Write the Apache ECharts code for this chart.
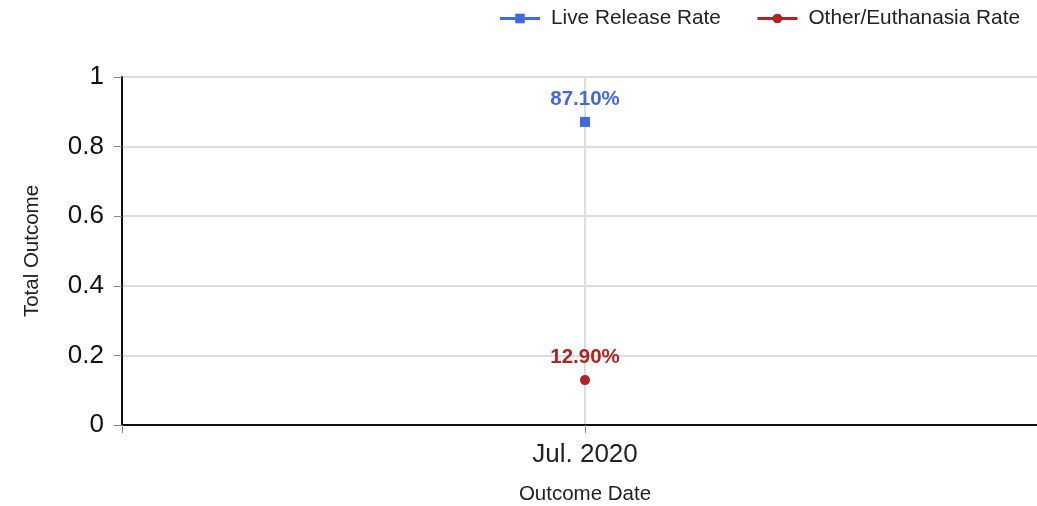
<!DOCTYPE html>
<html><head><meta charset="utf-8">
<script src="https://cdn.jsdelivr.net/npm/echarts@6/dist/echarts.min.js"></script>
<style>html,body{margin:0;padding:0;background:#fff}#c{width:1037px;height:506px}</style>
</head><body><div id="c"></div>
<script>
const categories = ['Jul. 2020'];
const liveRelease = [0.871];
const otherEuthanasia = [0.129];
const yTicks = [0, 0.2, 0.4, 0.6, 0.8, 1];

const chart = echarts.init(document.getElementById('c'));
const font = 'Arial, "Liberation Sans", sans-serif';
function pts(arr){ return arr.map((v,i)=>[i, v]); }
chart.setOption({
  animation: false,
  textStyle: { fontFamily: font },
  legend: {
    top: 3, right: 12, itemWidth: 40, itemHeight: 12, itemGap: 35,
    lineStyle: { width: 3 },
    textStyle: { fontSize: 20.8, color: '#222', fontFamily: font, padding: [0, 0, 0, 6] },
    data: ['Live Release Rate', 'Other/Euthanasia Rate']
  },
  grid: { left: 122, top: 77, bottom: 81, width: 926, outerBoundsMode: 'none', containLabel: false },
  xAxis: {
    type: 'value', min: -0.5, max: categories.length - 0.5, interval: 0.5,
    name: 'Outcome Date', nameLocation: 'middle', nameGap: 59,
    nameTextStyle: { fontSize: 20.5, color: '#222', fontFamily: font },
    axisLine: { onZero: false, lineStyle: { color: '#111', width: 2 } },
    axisTick: { show: true, length: 8, lineStyle: { color: '#888', width: 1 } },
    axisLabel: {
      fontSize: 26, color: '#222', margin: 17, fontFamily: font,
      formatter: v => (Math.abs(v - Math.round(v)) < 1e-9 && categories[Math.round(v)] !== undefined) ? categories[Math.round(v)] : ''
    },
    splitLine: { show: true, lineStyle: { color: '#ddd', width: 2 } }
  },
  yAxis: {
    type: 'value', min: 0, max: 1, interval: 0.2,
    name: 'Total Outcome', nameLocation: 'middle', nameGap: 79,
    nameTextStyle: { fontSize: 20.5, color: '#222', fontFamily: font },
    axisLine: { show: true, onZero: false, lineStyle: { color: '#111', width: 2 } },
    axisTick: { show: true, length: 8, lineStyle: { color: '#888', width: 1 } },
    axisLabel: { fontSize: 26, color: '#111', margin: 18, fontFamily: font,
      formatter: v => String(Math.round(v*10)/10) },
    splitLine: { show: true, lineStyle: { color: '#ddd', width: 2 } }
  },
  series: [
    {
      name: 'Live Release Rate', type: 'line', data: pts(liveRelease),
      symbol: 'rect', symbolSize: 10, color: '#4169E1',
      lineStyle: { width: 3 },
      label: { show: true, position: 'top', distance: 7, fontSize: 20.5, fontWeight: 'bold', color: '#4169E1',
        formatter: p => (p.value[1]*100).toFixed(2) + '%' }
    },
    {
      name: 'Other/Euthanasia Rate', type: 'line', data: pts(otherEuthanasia),
      symbol: 'circle', symbolSize: 10, color: '#B22222',
      lineStyle: { width: 3 },
      label: { show: true, position: 'top', distance: 7, fontSize: 20.5, fontWeight: 'bold', color: '#B22222',
        formatter: p => (p.value[1]*100).toFixed(2) + '%' }
    }
  ]
});
</script></body></html>
